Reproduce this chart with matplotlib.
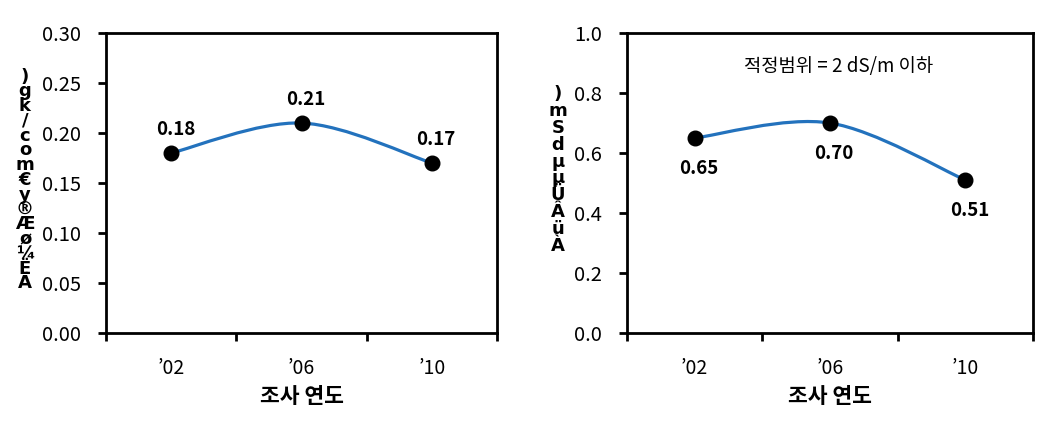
import matplotlib
matplotlib.use("Agg")
import matplotlib.pyplot as plt
from matplotlib.path import Path
from matplotlib.patches import PathPatch

plt.rcParams['font.family'] = ['Noto Sans CJK KR', 'DejaVu Sans']

# data
years = ["\u201902", "\u201906", "\u201910"]
om_vals = [0.18, 0.21, 0.17]
ec_vals = [0.65, 0.70, 0.51]
xlabel = "조사 연도"
note = "적정범위 = 2 dS/m 이하"
# garbled (mojibake) axis titles as they appear in the source picture
om_ylabel = [")", "g", "k", "/", "c", "o", "m", "\u20ac", "y", "®", "Æ", "ø", "¼", "Ë", "Ä"]
ec_ylabel = [")", "m", "S", "d", "µ", "µ", "Ü", "Â", "ü", "À"]

LINE = "#2372bd"


def smooth_path(xs, ys):
    # Excel-style smoothed line: cubic Bezier through the data points
    pts = list(zip(xs, ys))
    n = len(pts)
    verts = [pts[0]]
    codes = [Path.MOVETO]
    for i in range(n - 1):
        p0 = pts[i - 1] if i > 0 else pts[i]
        p1 = pts[i]
        p2 = pts[i + 1]
        p3 = pts[i + 2] if i + 2 < n else pts[i + 1]
        c1 = (p1[0] + (p2[0] - p0[0]) / 6, p1[1] + (p2[1] - p0[1]) / 6)
        c2 = (p2[0] - (p3[0] - p1[0]) / 6, p2[1] - (p3[1] - p1[1]) / 6)
        verts += [c1, c2, p2]
        codes += [Path.CURVE4] * 3
    return Path(verts, codes)


def panel(ax, vals, ylim, step, fmt, label_dy, ylab_chars, ylab_x, ylab_y, lsp):
    x = list(range(len(vals)))
    ax.add_patch(PathPatch(smooth_path(x, vals), fill=False, edgecolor=LINE,
                           lw=2.3, zorder=2))
    ax.plot(x, vals, ls="none", marker="o", ms=10.5, color="black", zorder=3)
    for xi, v in zip(x, vals):
        ax.annotate(f"{v:.2f}", (xi, v), xytext=(3, label_dy),
                    textcoords="offset points", ha="center", va="center",
                    fontsize=13.5, fontweight="bold")
    ax.set_xlim(-0.5, len(vals) - 0.5)
    ax.set_ylim(*ylim)
    ticks = [ylim[0] + i * step for i in range(int(round((ylim[1] - ylim[0]) / step)) + 1)]
    ax.set_yticks(ticks)
    ax.set_yticklabels([fmt.format(t) for t in ticks], fontsize=14.5)
    ax.set_xticks([i - 0.5 for i in range(len(vals) + 1)])
    ax.set_xticklabels([])
    ax.set_xticks(x, minor=True)
    ax.set_xticklabels(years, minor=True, fontsize=14)
    ax.tick_params(axis="x", which="major", direction="out", length=6, width=2)
    ax.tick_params(axis="x", which="minor", length=0, pad=18)
    ax.tick_params(axis="y", direction="out", length=6, width=2, pad=12)
    for s in ax.spines.values():
        s.set_linewidth(2)
    ax.set_xlabel(xlabel, fontsize=15.5, fontweight="bold", labelpad=5)
    ax.figure.text(ylab_x, ylab_y, "\n".join(ylab_chars), ha="center", va="center",
                   fontsize=13, fontweight="bold", family="DejaVu Sans",
                   linespacing=lsp)


fig = plt.figure(figsize=(10.62, 4.24), dpi=100)
ax1 = fig.add_axes([0.0998, 0.2146, 0.3682, 0.7075])
ax2 = fig.add_axes([0.5904, 0.2146, 0.3823, 0.7075])

panel(ax1, om_vals, (0, 0.30), 0.05, "{:.2f}", 17, om_ylabel,
      25 / 1062, 1 - 180 / 424, 0.77)
panel(ax2, ec_vals, (0, 1.0), 0.2, "{:.1f}", -22, ec_ylabel,
      558 / 1062, 1 - 170 / 424, 0.92)
ax2.text(0.52, 0.89, note, transform=ax2.transAxes, ha="center", va="center",
         fontsize=13.5)

fig.savefig("out.png", dpi=100)
